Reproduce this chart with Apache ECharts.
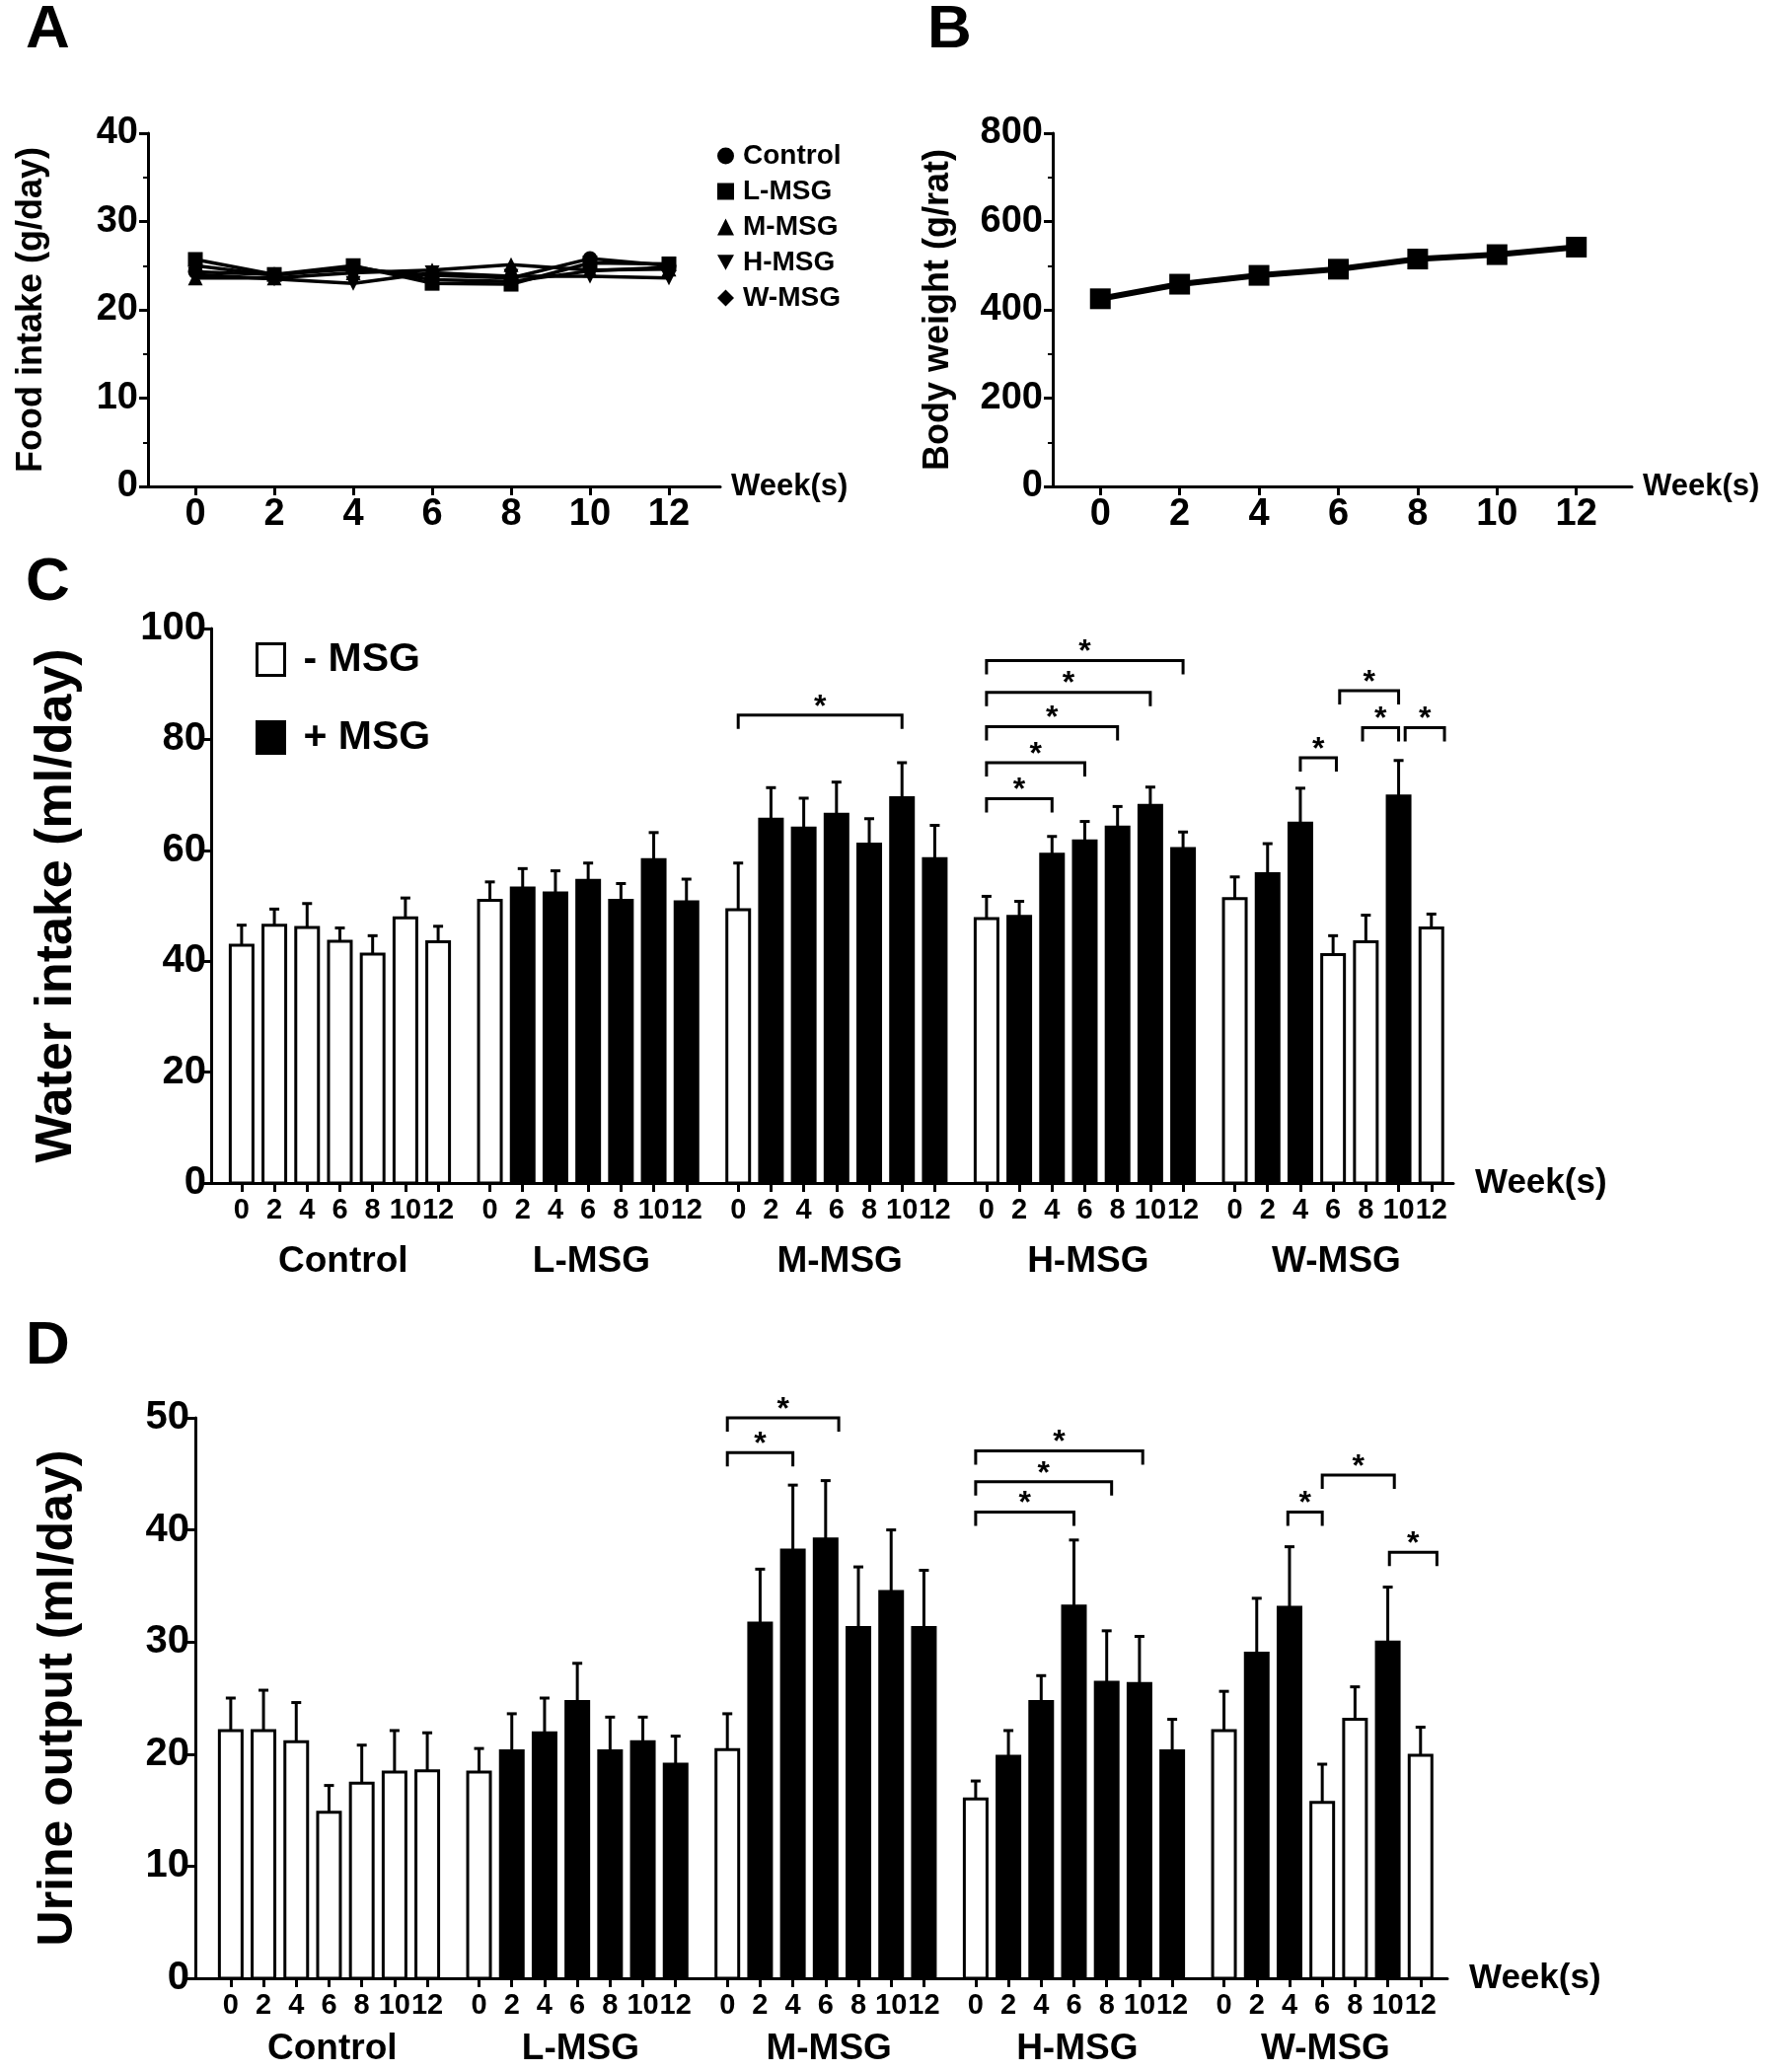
<!DOCTYPE html>
<html>
<head>
<meta charset="utf-8">
<title>Food, body weight, water and urine</title>
<script src="https://cdn.jsdelivr.net/npm/echarts@6/dist/echarts.min.js"></script>
<style>
  html, body { margin: 0; padding: 0; background: #fff; }
  #main { width: 1796px; height: 2100px; }
</style>
</head>
<body>
<div id="main"></div>
<script>
// values
const weeks = ['0', '2', '4', '6', '8', '10', '12']
const weekValues = [0, 2, 4, 6, 8, 10, 12]
const groups = ['Control', 'L-MSG', 'M-MSG', 'H-MSG', 'W-MSG']

// A - food intake (g/day)
const foodTicks = [0, 10, 20, 30, 40]
const foodControl = [24.3, 24.0, 24.6, 23.9, 23.6, 25.8, 25.0]
const foodLow = [25.7, 24.0, 25.0, 23.0, 22.9, 25.3, 25.2]
const foodMid = [23.6, 23.6, 24.2, 24.5, 25.1, 24.5, 24.6]
const foodHigh = [24.0, 23.5, 23.0, 24.2, 23.8, 23.8, 23.6]
const foodWeekly = [25.0, 23.9, 24.9, 23.4, 23.2, 24.4, 24.8]

// B - body weight (g/rat)
const weightTicks = [0, 200, 400, 600, 800]
const bodyWeight = [425, 458, 478, 492, 515, 525, 542]

// C, D - 1 = week with MSG, 0 = week without
const msgOn = [
  [0, 0, 0, 0, 0, 0, 0],
  [0, 1, 1, 1, 1, 1, 1],
  [0, 1, 1, 1, 1, 1, 1],
  [0, 1, 1, 1, 1, 1, 1],
  [0, 1, 1, 0, 0, 1, 0]
]

const waterTicks = [0, 20, 40, 60, 80, 100]
const waterMean = [
  [42.9, 46.5, 46.1, 43.6, 41.3, 47.8, 43.5],
  [51.0, 53.2, 52.3, 54.6, 51.0, 58.3, 50.7],
  [49.3, 65.6, 64.0, 66.5, 61.1, 69.5, 58.5],
  [47.7, 48.1, 59.3, 61.7, 64.2, 68.1, 60.3],
  [51.3, 55.8, 64.9, 41.2, 43.5, 69.8, 46.0]
]
const waterSem = [
  [3.6, 2.9, 4.3, 2.4, 3.3, 3.6, 2.8],
  [3.3, 3.5, 4.0, 3.1, 3.0, 4.9, 4.1],
  [8.4, 5.7, 5.4, 5.8, 4.6, 6.3, 6.0],
  [4.0, 2.7, 3.2, 3.5, 3.7, 3.3, 3.0],
  [3.9, 5.4, 6.3, 3.4, 4.8, 6.4, 2.5]
]
// [group, from week index, to week index, bracket height]
const waterSig = [
  [2, 0, 5, 84.4],
  [3, 0, 6, 94.2], [3, 0, 5, 88.5], [3, 0, 4, 82.3], [3, 0, 3, 75.8], [3, 0, 2, 69.3],
  [4, 2, 3.1, 76.7], [4, 3.2, 5, 88.8], [4, 3.9, 5, 82.1], [4, 5.2, 6.4, 82.1]
]

const urineTicks = [0, 10, 20, 30, 40, 50]
const urineMean = [
  [22.1, 22.1, 21.1, 14.8, 17.4, 18.4, 18.5],
  [18.4, 20.3, 21.9, 24.7, 20.3, 21.1, 19.1],
  [20.4, 31.7, 38.2, 39.2, 31.3, 34.5, 31.3],
  [16.0, 19.8, 24.7, 33.2, 26.4, 26.3, 20.3],
  [22.1, 29.0, 33.1, 15.7, 23.1, 30.0, 19.9]
]
const urineSem = [
  [2.9, 3.6, 3.5, 2.4, 3.4, 3.7, 3.4],
  [2.1, 3.3, 3.1, 3.4, 3.0, 2.2, 2.5],
  [3.2, 4.8, 5.8, 5.2, 5.4, 5.5, 5.1],
  [1.6, 2.3, 2.3, 5.9, 4.6, 4.2, 2.8],
  [3.5, 4.9, 5.4, 3.4, 2.9, 4.9, 2.5]
]
const urineSig = [
  [2, 0, 2, 46.9], [2, 0, 3.4, 50.0],
  [3, 0, 3, 41.6], [3, 0, 4.15, 44.3], [3, 0, 5.1, 47.05],
  [4, 1.95, 3, 41.6], [4, 3, 5.2, 44.9], [4, 5.05, 6.5, 38.0]
]

// layout
const FONT = "'Liberation Sans', Arial, Helvetica, sans-serif"
const GROUP_STEP = 7.58
const BAR_W = 23

const barPositions = []
groups.forEach((g, gi) => weeks.forEach((w, wi) => barPositions.push(gi * GROUP_STEP + wi)))
const groupCenters = groups.map((g, gi) => gi * GROUP_STEP + 3.1)

const weekLabel = (v) => {
  const gi = Math.floor((v + 0.01) / GROUP_STEP)
  return weeks[Math.round(v - gi * GROUP_STEP)]
}
const groupLabel = (v) => groups[Math.round((v - 3) / GROUP_STEP)]

const bold = (size) => ({ fontFamily: FONT, fontWeight: 'bold', fontSize: size, color: '#000' })
const blackLine = { color: '#000', width: 3 }

const yAxisOf = (gridIndex, ticks, name, nameGap, labelSize, nameSize, minor, margin) => ({
  type: 'value',
  gridIndex,
  min: ticks[0],
  max: ticks[ticks.length - 1],
  interval: ticks[1] - ticks[0],
  name,
  nameLocation: 'middle',
  nameRotate: 90,
  nameGap,
  nameTextStyle: bold(nameSize),
  axisLine: { show: true, onZero: false, lineStyle: blackLine },
  axisTick: { show: true, length: 9, lineStyle: blackLine },
  minorTick: { show: minor, splitNumber: 2, length: 5, lineStyle: { color: '#000', width: 2 } },
  axisLabel: Object.assign({ margin }, bold(labelSize)),
  splitLine: { show: false }
})

const weekAxisOf = (gridIndex, min, max) => ({
  type: 'value',
  gridIndex,
  min,
  max,
  name: 'Week(s)',
  nameLocation: 'end',
  nameGap: 11,
  nameTextStyle: bold(31),
  axisLine: { show: true, onZero: false, lineStyle: blackLine },
  axisTick: { show: true, length: 9, lineStyle: blackLine, customValues: weekValues },
  axisLabel: Object.assign({ margin: 10, customValues: weekValues, showMinLabel: true, showMaxLabel: true }, bold(38)),
  splitLine: { show: false }
})

const barAxisOf = (gridIndex, min, max) => ({
  type: 'value',
  gridIndex,
  min,
  max,
  name: 'Week(s)',
  nameLocation: 'end',
  nameGap: 22,
  nameTextStyle: bold(35),
  axisLine: { show: true, onZero: false, lineStyle: blackLine },
  axisTick: { show: true, length: 9, lineStyle: blackLine, customValues: barPositions },
  axisLabel: Object.assign({
    margin: 13,
    customValues: barPositions,
    formatter: weekLabel,
    showMinLabel: true,
    showMaxLabel: true,
    hideOverlap: false
  }, bold(29)),
  splitLine: { show: false }
})

const groupAxisOf = (gridIndex, min, max, margin) => ({
  type: 'value',
  gridIndex,
  min,
  max,
  position: 'bottom',
  axisLine: { show: false },
  axisTick: { show: false },
  axisLabel: Object.assign({ margin, customValues: groupCenters, formatter: groupLabel, showMinLabel: true, showMaxLabel: true }, bold(37)),
  splitLine: { show: false }
})

const foodSeries = [
  ['Control', foodControl, 'circle'],
  ['L-MSG', foodLow, 'rect'],
  ['M-MSG', foodMid, 'triangle'],
  ['H-MSG', foodHigh, 'path://M0,0L10,0L5,9Z'],
  ['W-MSG', foodWeekly, 'diamond']
]

const renderBar = (params, api) => {
  const x = api.value(0)
  const mean = api.value(1)
  const sem = api.value(2)
  const base = api.coord([x, 0])
  const top = api.coord([x, mean])
  const err = api.coord([x, mean + sem])
  const fill = params.seriesName === '+ MSG' ? '#000' : '#fff'
  return {
    type: 'group',
    children: [
      { type: 'line', shape: { x1: top[0], y1: top[1], x2: err[0], y2: err[1] }, style: { stroke: '#000', lineWidth: 3 } },
      { type: 'line', shape: { x1: err[0] - 5, y1: err[1], x2: err[0] + 5, y2: err[1] }, style: { stroke: '#000', lineWidth: 3 } },
      {
        type: 'rect',
        shape: { x: base[0] - BAR_W / 2, y: top[1], width: BAR_W, height: base[1] - top[1] },
        style: { fill, stroke: '#000', lineWidth: 3 }
      }
    ]
  }
}

const renderSig = (params, api) => {
  const g = api.value(0)
  const p1 = api.coord([g * GROUP_STEP + api.value(1), api.value(3)])
  const p2 = api.coord([g * GROUP_STEP + api.value(2), api.value(3)])
  const leg = 14
  return {
    type: 'group',
    children: [
      {
        type: 'polyline',
        shape: { points: [[p1[0], p1[1] + leg], [p1[0], p1[1]], [p2[0], p2[1]], [p2[0], p2[1] + leg]] },
        style: { stroke: '#000', lineWidth: 3, fill: null }
      },
      {
        type: 'text',
        x: (p1[0] + p2[0]) / 2,
        y: p1[1] - 8,
        style: { text: '*', fontFamily: FONT, fontWeight: 'bold', fontSize: 32, fill: '#000', align: 'center', verticalAlign: 'middle' }
      }
    ]
  }
}

const barSeries = (name, on, mean, sem, xAxisIndex, yAxisIndex) => {
  const data = []
  groups.forEach((g, gi) => weeks.forEach((w, wi) => {
    if (msgOn[gi][wi] === on) data.push([gi * GROUP_STEP + wi, mean[gi][wi], sem[gi][wi]])
  }))
  return { type: 'custom', name, xAxisIndex, yAxisIndex, data, renderItem: renderBar, encode: { x: 0, y: 1 }, z: 3 }
}

const sigSeries = (data, xAxisIndex, yAxisIndex) => ({
  type: 'custom', name: 'sig', xAxisIndex, yAxisIndex, data, renderItem: renderSig, silent: true, z: 4
})

const letter = (text, left, top) => ({ text, left, top, padding: 0, textStyle: bold(62) })

const chart = echarts.init(document.getElementById('main'))
chart.setOption({
  backgroundColor: '#fff',
  animation: false,
  title: [letter('A', 26, 0), letter('B', 940, 0), letter('C', 26, 560), letter('D', 26, 1334)],
  legend: [
    {
      orient: 'vertical',
      left: 722,
      top: 139,
      itemWidth: 17,
      itemHeight: 17,
      itemGap: 8,
      textStyle: Object.assign({ padding: [0, 0, 0, 4] }, bold(28)),
      data: foodSeries.map((s) => ({ name: s[0], icon: s[2] }))
    },
    {
      orient: 'vertical',
      left: 254,
      top: 643,
      itemWidth: 28,
      itemHeight: 32,
      itemGap: 38,
      textStyle: Object.assign({ padding: [0, 0, 0, 14] }, bold(41)),
      data: [
        { name: '- MSG', icon: 'rect', itemStyle: { color: '#fff', borderColor: '#000', borderWidth: 3 } },
        { name: '+ MSG', icon: 'rect', itemStyle: { color: '#000', borderColor: '#000', borderWidth: 3 } }
      ]
    }
  ],
  grid: [
    { left: 150, top: 135, width: 580, height: 358 },
    { left: 1067, top: 135, width: 587, height: 358 },
    { left: 214, top: 637, width: 1259, height: 562 },
    { left: 198, top: 1437, width: 1269, height: 568 }
  ],
  xAxis: [
    weekAxisOf(0, -1.2, 13.3),
    weekAxisOf(1, -1.2, 13.4),
    barAxisOf(2, -0.93, 36.99),
    groupAxisOf(2, -0.93, 36.99, 61),
    barAxisOf(3, -1.08, 37.14),
    groupAxisOf(3, -1.08, 37.14, 53)
  ],
  yAxis: [
    yAxisOf(0, foodTicks, 'Food intake (g/day)', 100, 38, 36, true, 10),
    yAxisOf(1, weightTicks, 'Body weight (g/rat)', 98, 38, 36, true, 10),
    yAxisOf(2, waterTicks, 'Water intake (ml/day)', 130, 40, 52, false, 5),
    yAxisOf(3, urineTicks, 'Urine output (ml/day)', 114, 40, 50, false, 6)
  ],
  series: [
    ...foodSeries.map((s) => ({
      type: 'line',
      name: s[0],
      xAxisIndex: 0,
      yAxisIndex: 0,
      data: weekValues.map((w, i) => [w, s[1][i]]),
      symbol: s[2],
      symbolSize: 15,
      itemStyle: { color: '#000' },
      lineStyle: { color: '#000', width: 3.5 }
    })),
    {
      type: 'line',
      name: 'Body weight',
      xAxisIndex: 1,
      yAxisIndex: 1,
      data: weekValues.map((w, i) => [w, bodyWeight[i]]),
      symbol: 'rect',
      symbolSize: 21,
      itemStyle: { color: '#000' },
      lineStyle: { color: '#000', width: 6 }
    },
    barSeries('- MSG', 0, waterMean, waterSem, 2, 2),
    barSeries('+ MSG', 1, waterMean, waterSem, 2, 2),
    sigSeries(waterSig, 2, 2),
    barSeries('- MSG', 0, urineMean, urineSem, 4, 3),
    barSeries('+ MSG', 1, urineMean, urineSem, 4, 3),
    sigSeries(urineSig, 4, 3)
  ]
})
</script>
</body>
</html>
